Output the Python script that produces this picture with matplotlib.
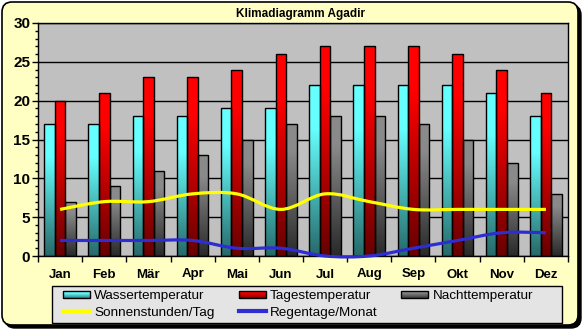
import matplotlib
matplotlib.use('Agg')
import matplotlib.pyplot as plt
import numpy as np
from matplotlib.colors import LinearSegmentedColormap
from matplotlib.patches import Rectangle, FancyBboxPatch, PathPatch
from matplotlib.path import Path
from matplotlib.lines import Line2D
from matplotlib.legend_handler import HandlerBase
from matplotlib.transforms import IdentityTransform

# Klimadaten Agadir
monate = ['Jan', 'Feb', 'Mär', 'Apr', 'Mai', 'Jun', 'Jul', 'Aug', 'Sep', 'Okt', 'Nov', 'Dez']
wasser = [17, 17, 18, 18, 19, 19, 22, 22, 22, 22, 21, 18]
tag = [20, 21, 23, 23, 24, 26, 27, 27, 27, 26, 24, 21]
nacht = [7, 9, 11, 13, 15, 17, 18, 18, 17, 15, 12, 8]
sonne = [6, 7, 7, 8, 8, 6, 8, 7, 6, 6, 6, 6]
regen = [2, 2, 2, 2, 1, 1, 0, 0, 1, 2, 3, 3]

plt.rcParams['font.family'] = ['Liberation Sans', 'DejaVu Sans']

cm_wasser = LinearSegmentedColormap.from_list('w', [(0, '#286a6a'), (0.75, '#66ffff'), (1, '#66ffff')])
cm_tag = LinearSegmentedColormap.from_list('t', [(0, '#680000'), (0.8, '#ff0000'), (1, '#ff0000')])
cm_nacht = LinearSegmentedColormap.from_list('n', [(0, '#2a2a2a'), (0.8, '#8a8a8a'), (1, '#8a8a8a')])

fig = plt.figure(figsize=(5.83, 3.30), dpi=100, facecolor='white')

# rahmen mit schatten (pixel)
shadow = FancyBboxPatch((5, 2), 576, 323, boxstyle='round,pad=0,rounding_size=10',
                        transform=IdentityTransform(), fc='black', ec='black', zorder=-3)
frame = FancyBboxPatch((2, 5), 576, 323, boxstyle='round,pad=0,rounding_size=10',
                       transform=IdentityTransform(), fc='#ffffc4', ec='black', lw=1.2, zorder=-2)
fig.add_artist(shadow)
fig.add_artist(frame)

ax = fig.add_axes([38 / 583, 74 / 330, 530 / 583, 233 / 330])
ax.set_facecolor('#c0c0c0')

x = np.arange(len(monate))
w = 0.24
for off, vals, cmap in [(-w, wasser, cm_wasser), (0, tag, cm_tag), (w, nacht, cm_nacht)]:
    bars = ax.bar(x + off, vals, w, fc='none', ec='black', lw=1, zorder=3)
    for r in bars:
        grad = np.linspace(0, 1, 64).reshape(-1, 1)
        im = ax.imshow(grad, extent=[r.get_x(), r.get_x() + r.get_width(), 0, r.get_height()],
                       origin='lower', cmap=cmap, aspect='auto', zorder=2.5, interpolation='bilinear')
        im.set_clip_path(r)


def smooth_path(ys):
    pts = list(zip(x, ys))
    verts = [pts[0]]
    codes = [Path.MOVETO]
    n = len(pts)
    for i in range(n - 1):
        p0 = np.array(pts[max(i - 1, 0)], float)
        p1 = np.array(pts[i], float)
        p2 = np.array(pts[i + 1], float)
        p3 = np.array(pts[min(i + 2, n - 1)], float)
        c1 = p1 + (p2 - p0) / 6
        c2 = p2 - (p3 - p1) / 6
        verts += [tuple(c1), tuple(c2), tuple(p2)]
        codes += [Path.CURVE4] * 3
    return Path(verts, codes)


ax.add_patch(PathPatch(smooth_path(sonne), fill=False, ec='#ffff00', lw=2.3, zorder=4,
                       capstyle='butt', clip_on=False))
ax.add_patch(PathPatch(smooth_path(regen), fill=False, ec='#2d2dd2', lw=2.3, zorder=4,
                       capstyle='butt', clip_on=False))

ax.set_xlim(-0.5, 11.5)
ax.set_ylim(0, 30)
ax.set_yticks(range(0, 31, 5))
ax.set_yticks(range(0, 31, 1), minor=True)
ax.yaxis.grid(True, color='black', lw=1)
ax.set_axisbelow(True)
ax.tick_params(axis='y', which='major', length=4, width=1, pad=1.5, labelsize=11)
ax.tick_params(axis='y', which='minor', length=2.5, width=1)
for t in ax.get_yticklabels():
    t.set_fontweight('bold')

ax.set_xticks(np.arange(-0.5, 12, 1))
ax.set_xticklabels([])
ax.set_xticks(x, minor=True)
ax.set_xticklabels(monate, minor=True, fontweight='bold', fontsize=9.5)
ax.tick_params(axis='x', which='major', length=4.5, width=1)
ax.tick_params(axis='x', which='minor', length=0, pad=9)
for s in ax.spines.values():
    s.set_linewidth(1)


class HandlerGrad(HandlerBase):
    def __init__(self, cmap):
        super().__init__()
        self.cmap = cmap

    def create_artists(self, legend, orig_handle, xdescent, ydescent, width, height, fontsize, trans):
        arts = []
        n = 8
        y0 = -ydescent + height * 0.1
        h = height * 0.8
        for i in range(n):
            arts.append(Rectangle((-xdescent, y0 + h * i / n), width, h / n,
                                  fc=self.cmap((i + 0.5) / n), ec='none', transform=trans))
        arts.append(Rectangle((-xdescent, y0), width, h, fc='none', ec='black', lw=1, transform=trans))
        return arts


# legende
box = Rectangle((52 / 583, 7 / 330), 510 / 583, 37 / 330, transform=fig.transFigure,
                fc='#e4e4e4', ec='black', lw=1, zorder=1)
fig.add_artist(box)

h_w = Rectangle((0, 0), 1, 1)
h_t = Rectangle((0, 0), 1, 1)
h_n = Rectangle((0, 0), 1, 1)
h_s = Line2D([], [], color='#ffff00', lw=3)
h_r = Line2D([], [], color='#2d2dd2', lw=3)
leg = fig.legend([h_w, h_s, h_t, h_r, h_n],
                 ['Wassertemperatur', 'Sonnenstunden/Tag', 'Tagestemperatur', 'Regentage/Monat', 'Nachttemperatur'],
                 handler_map={h_w: HandlerGrad(cm_wasser), h_t: HandlerGrad(cm_tag), h_n: HandlerGrad(cm_nacht)},
                 ncol=3, loc='upper left', bbox_to_anchor=(63 / 583, 1 - 290 / 330),
                 bbox_transform=fig.transFigure, frameon=False, borderpad=0, borderaxespad=0,
                 handlelength=2.0, handletextpad=0.3, columnspacing=1.8, labelspacing=0.3, fontsize=9.7)
leg.set_zorder(5)

fig.text(300 / 583, 1 - 13.5 / 330, 'Klimadiagramm Agadir', ha='center', va='center',
         fontsize=8.5, fontweight='bold')

fig.savefig('out.png', dpi=100, facecolor='white')
